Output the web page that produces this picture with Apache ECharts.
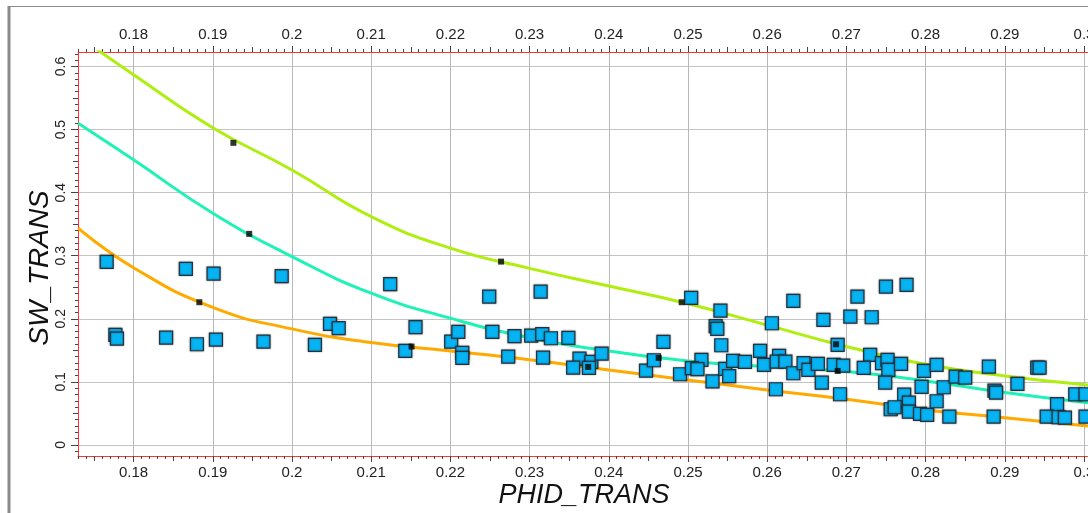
<!DOCTYPE html>
<html>
<head>
<meta charset="utf-8">
<script src="https://cdn.jsdelivr.net/npm/echarts@6/dist/echarts.min.js"></script>
<style>
html,body{margin:0;padding:0;background:#fff;}
#c{width:1088px;height:513px;}
</style>
</head>
<body>
<div id="c"></div>
<script>
// ---- data ----
const phid = [0.1766,0.1777,0.1779,0.1841,0.1866,0.1880,0.1901,0.1904,0.1964,0.1987,
0.2029,0.2048,0.2059,0.2124,0.2143,0.2156,0.2201,0.2210,0.2215,0.2215,
0.2249,0.2253,0.2273,0.2281,0.2302,0.2314,0.2316,0.2327,0.2317,0.2349,
0.2363,0.2355,0.2378,0.2375,0.2391,0.2447,0.2457,0.2469,0.2490,0.2504,
0.2517,0.2505,0.2512,0.2531,0.2541,0.2535,0.2537,0.2542,0.2547,0.2552,
0.2557,0.2572,0.2591,0.2596,0.2606,0.2611,0.2615,0.2612,0.2623,0.2633,
0.2633,0.2646,0.2652,0.2664,0.2671,0.2669,0.2684,0.2696,0.2689,0.2692,
0.2705,0.2714,0.2732,0.2730,0.2722,0.2750,0.2776,0.2745,0.2752,0.2753,
0.2749,0.2769,0.2798,0.2814,0.2795,0.2773,0.2779,0.2756,0.2761,0.2779,
0.2793,0.2802,0.2814,0.2823,0.2830,0.2838,0.2850,0.2880,0.2887,0.2889,
0.2886,0.2916,0.2941,0.2944,0.2966,0.2953,0.2968,0.2976,0.2989,0.3002,0.3002];
const sw = [0.2902,0.1745,0.1686,0.1702,0.2791,0.1597,0.2717,0.1670,0.1638,0.2676,
0.1586,0.1919,0.1851,0.2549,0.1491,0.1867,0.1638,0.1792,0.1459,0.1380,
0.2352,0.1792,0.1400,0.1724,0.1734,0.2431,0.1756,0.1692,0.1385,0.1697,
0.1369,0.1226,0.1316,0.1221,0.1448,0.1178,0.1343,0.1634,0.1121,0.2331,
0.1348,0.1218,0.1201,0.1007,0.2130,0.1883,0.1840,0.1581,0.1205,0.1090,
0.1332,0.1316,0.1491,0.1269,0.1930,0.0883,0.1412,0.1321,0.1321,0.2284,
0.1137,0.1296,0.1190,0.1285,0.1983,0.0988,0.1269,0.1258,0.1586,0.0804,
0.2035,0.2352,0.2025,0.1427,0.1221,0.2511,0.2538,0.1296,0.1348,0.1190,
0.0988,0.1285,0.1174,0.1269,0.0920,0.0798,0.0671,0.0566,0.0598,0.0528,
0.0492,0.0476,0.0693,0.0915,0.0449,0.1083,0.1067,0.1242,0.0861,0.0830,
0.0449,0.0967,0.1226,0.1226,0.0646,0.0449,0.0439,0.0433,0.0804,0.0804,0.0449];

const curveX  = [0.173,0.18,0.19,0.20,0.21,0.22,0.23,0.24,0.25,0.26,0.27,0.28,0.29,0.3005];
const greenY  = [0.648,0.587,0.503,0.436,0.362,0.312,0.280,0.252,0.224,0.190,0.156,0.128,0.1094,0.095];
const cyanY   = [0.510,0.452,0.3675,0.2987,0.2406,0.201,0.170,0.149,0.1332,0.1242,0.1163,0.1015,0.083,0.067];
const orangeY = [0.3437,0.281,0.218,0.184,0.1623,0.149,0.135,0.119,0.103,0.0872,0.0725,0.0555,0.0433,0.0301];

const markX = [0.1926,0.2264,0.2492,0.2687,0.1946,0.2463,0.2689,0.1883,0.2151,0.2374];
const markY = [0.479,0.2907,0.2263,0.1597,0.3347,0.138,0.1174,0.2263,0.156,0.1237];

const xTicks = [0.18,0.19,0.2,0.21,0.22,0.23,0.24,0.25,0.26,0.27,0.28,0.29,0.3];
const yTicks = [0,0.1,0.2,0.3,0.4,0.5,0.6];
const xName = 'PHID_TRANS';
const yName = 'SW_TRANS';

// ---- layout / style ----
const XMIN = 0.17298, XMAX = 0.30051, YMIN = -0.0175, YMAX = 0.623;
const xMinor = [], xMid = [], yMinor = [], yMid = [];
for (let i = 173; i <= 300; i++) { if (i % 10 === 0) continue; (i % 5 === 0 ? xMid : xMinor).push(i / 1000); }
for (let i = -1; i <= 62; i++) { if (i % 10 === 0) continue; (Math.abs(i) % 5 === 0 ? yMid : yMinor).push(i / 100); }

const RED = '#ff3333', TICK = '#444';
const LBL = {color:'#222', fontFamily:'"Liberation Sans", Arial, sans-serif', fontSize:15};
const fmt = v => String(+(+v).toFixed(3));

function xAx(pos, main, vals, len) {
  return {
    type:'value', gridIndex:0, position:pos, min:XMIN, max:XMAX,
    axisLine:{show:main, onZero:false, lineStyle:{color:RED, width:1}},
    axisTick:{show:true, inside:false, length:len, customValues:vals, lineStyle:{color:TICK, width:1}},
    axisLabel:Object.assign({show:main, customValues:main?vals:undefined, formatter:fmt, margin: pos==='top'?10:9, hideOverlap:false}, LBL),
    splitLine:{show: main && pos==='bottom', lineStyle:{color:'#b8b8b8', width:1}}
  };
}
function yAx(main, vals, len) {
  return {
    type:'value', gridIndex:0, position:'left', min:YMIN, max:YMAX,
    axisLine:{show:main, onZero:false, lineStyle:{color:RED, width:1}},
    axisTick:{show:true, length:len, customValues:vals, lineStyle:{color:TICK, width:1}},
    axisLabel:Object.assign({show:main, customValues:main?vals:undefined, formatter:fmt, rotate:90, margin:10}, LBL, {fontSize:14}),
    splitLine:{show:main, lineStyle:{color:'#c4c4c4', width:1}}
  };
}

const chart = echarts.init(document.getElementById('c'), null, {renderer:'canvas'});
chart.setOption({
  animation:false,
  backgroundColor:'#fff',
  grid:{left:78, top:52, right:0, height:404, containLabel:false, outerBoundsMode:'none'},
  xAxis:[
    xAx('bottom', true, xTicks, 6),
    xAx('top', true, xTicks, 6),
    xAx('bottom', false, xMinor, 3),
    xAx('top', false, xMinor, 3),
    xAx('bottom', false, xMid, 5),
    xAx('top', false, xMid, 5)
  ],
  yAxis:[
    yAx(true, yTicks, 7),
    yAx(false, yMinor, 3),
    yAx(false, yMid, 5)
  ],
  graphic:[
    {type:'line', shape:{x1:9, y1:6, x2:9, y2:513}, style:{stroke:'#8a8a8a', lineWidth:3}, z:100},
    {type:'line', shape:{x1:8, y1:6.5, x2:1088, y2:6.5}, style:{stroke:'#8a8a8a', lineWidth:1}, z:100},
    {type:'text', x:584, y:495, style:{text:xName, font:'italic 27px "Liberation Sans", Arial, sans-serif', fill:'#111', align:'center', verticalAlign:'middle'}, z:100},
    {type:'text', x:40, y:268, rotation:Math.PI/2, style:{text:yName, font:'italic 28px "Liberation Sans", Arial, sans-serif', fill:'#111', align:'center', verticalAlign:'middle'}, z:100}
  ],
  series:[
    {type:'line', xAxisIndex:0, yAxisIndex:0, data:curveX.map((x,i)=>[x,greenY[i]]), smooth:0.5, showSymbol:false, symbol:'none', clip:true, lineStyle:{color:'#b0ee10', width:3}, z:2},
    {type:'line', xAxisIndex:0, yAxisIndex:0, data:curveX.map((x,i)=>[x,cyanY[i]]), smooth:0.5, showSymbol:false, symbol:'none', clip:true, lineStyle:{color:'#1ef2b6', width:3}, z:2},
    {type:'line', xAxisIndex:0, yAxisIndex:0, data:curveX.map((x,i)=>[x,orangeY[i]]), smooth:0.5, showSymbol:false, symbol:'none', clip:true, lineStyle:{color:'#ffaa00', width:3}, z:2},
    {type:'scatter', xAxisIndex:0, yAxisIndex:0, data:phid.map((x,i)=>[x,sw[i]]), symbol:'rect', symbolSize:13, clip:false,
     itemStyle:{color:'#06b3f3', borderColor:'#24323f', borderWidth:1.2, opacity:1, shadowBlur:2, shadowColor:'rgba(0,0,0,0.35)'}, z:3},
    {type:'scatter', xAxisIndex:0, yAxisIndex:0, data:markX.map((x,i)=>[x,markY[i]]), symbol:'rect', symbolSize:6,
     itemStyle:{color:'#000'}, z:4}
  ]
});
</script>
</body>
</html>
